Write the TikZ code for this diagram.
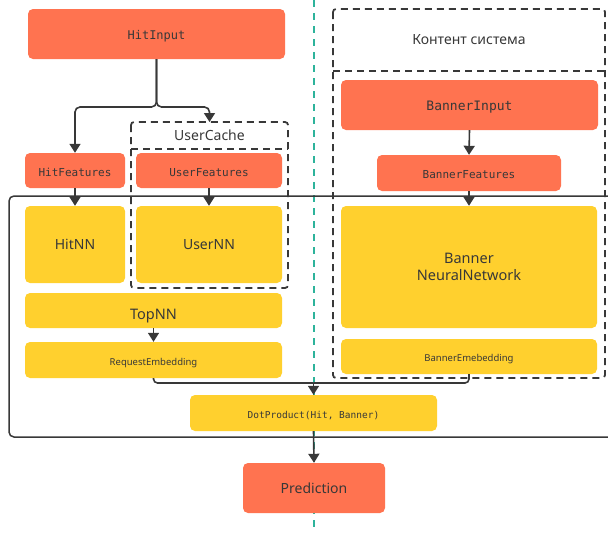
\documentclass[tikz,border=0pt]{standalone}
\usepackage{fontspec}
\setmainfont{Noto Sans}
\setmonofont{DejaVu Sans Mono}
\usetikzlibrary{arrows.meta}

\definecolor{boxorange}{HTML}{FF7350}
\definecolor{boxyellow}{HTML}{FFD02E}
\definecolor{inkgray}{HTML}{383838}
\definecolor{splitteal}{HTML}{2DB39B}

\tikzset{
  block/.style={draw=none, rounded corners=5pt, inner sep=0pt, text=inkgray, align=center},
  orangebox/.style={block, fill=boxorange},
  yellowbox/.style={block, fill=boxyellow},
  monotext/.style={font=\ttfamily\fontsize{#1}{#1}\selectfont},
  sanstext/.style={font=\fontsize{#1}{#1}\selectfont},
  % single-line labels that sit a little below the box centre
  sink/.style={text height=#1, text depth=0pt},
  groupframe/.style={draw=inkgray, line width=1.8pt, dash pattern=on 7pt off 5pt, rounded corners=3pt},
  link/.style={draw=inkgray, line width=1.6pt},
  arrowlink/.style={link, -{Triangle[width=11pt,length=9pt]}},
  dividerline/.style={draw=splitteal, line width=2pt, dash pattern=on 6.5pt off 6.5pt},
}

\begin{document}
\begin{tikzpicture}[x=1pt, y=-1pt]
  \useasboundingbox (0,0) rectangle (608,533);

  % vertical divider between the request side and the content side
  \coordinate (divtop) at (313.5,0);
  \coordinate (divbot) at (313.5,533);
  \draw[dividerline] (divtop) -- (divbot);

  % outer frame of the shared model (runs off the right edge)
  \begin{scope}
    \clip (0,0) rectangle (608,533);
    \draw[inkgray, line width=1.5pt, rounded corners=5pt] (9,196) rectangle (640,437);
  \end{scope}

  % dashed groups
  \draw[groupframe] (131,122) rectangle (288,288);
  \draw[groupframe] (131,149) -- (288,149);
  \node[sanstext=14, text=inkgray] (ucachelbl) at (209.5,135.5) {UserCache};

  \draw[groupframe] (333,9) rectangle (605,378);
  \draw[groupframe] (333,71) -- (605,71);
  \node[sanstext=14, text=inkgray] (kontlbl) at (469,40) {Контент система};

  % request side
  \node[orangebox, monotext=12, sink=10pt, minimum width=257pt, minimum height=50pt] (hitin) at (156.5,34) {HitInput};
  \node[orangebox, monotext=11, sink=12pt, minimum width=100pt, minimum height=35pt] (hitfeat) at (75,170.5) {HitFeatures};
  \node[orangebox, monotext=11, sink=12pt, minimum width=146pt, minimum height=35pt] (ufeat) at (209,170.5) {UserFeatures};
  \node[yellowbox, sanstext=14, minimum width=100pt, minimum height=77pt] (hitnn) at (75,244.5) {HitNN};
  \node[yellowbox, sanstext=14, minimum width=146pt, minimum height=77pt] (usernn) at (209,244.5) {UserNN};
  \node[yellowbox, sanstext=14.5, sink=18pt, minimum width=257pt, minimum height=35pt] (topnn) at (153.5,310.5) {TopNN};
  \node[yellowbox, sanstext=9.5, sink=11pt, minimum width=257pt, minimum height=36pt] (reqemb) at (153.5,360) {RequestEmbedding};

  % content side
  \node[orangebox, monotext=13, sink=10.5pt, minimum width=257pt, minimum height=50pt] (banin) at (469.5,105) {BannerInput};
  \node[orangebox, monotext=11, sink=10.5pt, minimum width=184pt, minimum height=36pt] (banfeat) at (469,173) {BannerFeatures};
  \node[yellowbox, sanstext=14.5, minimum width=256pt, minimum height=122pt] (bannn) at (469,267) {Banner\\[2pt]NeuralNetwork};
  \node[yellowbox, sanstext=9.5, sink=9.5pt, minimum width=256pt, minimum height=35pt] (banemb) at (469,356.5) {BannerEmebedding};

  % joint part
  \node[yellowbox, monotext=9.5, sink=11pt, minimum width=247pt, minimum height=36pt] (dot) at (313.5,413) {DotProduct(Hit, Banner)};
  \node[orangebox, sanstext=14, minimum width=142pt, minimum height=50pt] (pred) at (314,488) {Prediction};

  \coordinate (ucachetop) at (209.5,122);
  \coordinate (fork) at (156.5,107);
  \coordinate (merge) at (313.5,383);

  % connectors
  \draw[arrowlink, rounded corners=5pt] (hitin.south) -- (fork) -| (hitfeat.north);
  \draw[arrowlink, rounded corners=5pt] (hitin.south) -- (fork) -| (ucachetop);
  \draw[arrowlink] (hitfeat.south) -- (hitnn.north);
  \draw[arrowlink] (ufeat.south) -- (usernn.north);
  \draw[arrowlink] (topnn.south) -- (reqemb.north);
  \draw[arrowlink] (banin.south) -- (banfeat.north);
  \draw[arrowlink] (banfeat.south) -- (bannn.north);
  \draw[link, rounded corners=4pt] (reqemb.south) |- (merge);
  \draw[link, rounded corners=4pt] (banemb.south) |- (merge);
  \draw[arrowlink] (merge) -- (dot.north);
  \draw[arrowlink] (dot.south) -- (pred.north);
\end{tikzpicture}
\end{document}
